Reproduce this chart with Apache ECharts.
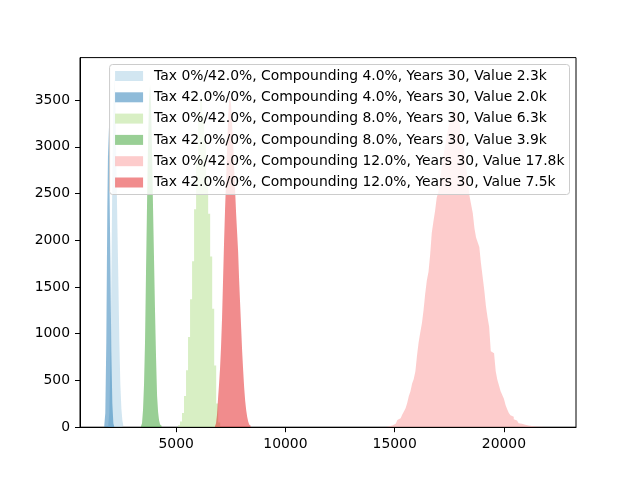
<!DOCTYPE html>
<html><head><meta charset="utf-8">
<script src="https://cdn.jsdelivr.net/npm/echarts@6/dist/echarts.min.js"></script>
<style>html,body{margin:0;padding:0;background:#fff}#c{width:640px;height:480px}</style>
</head><body><div id="c"></div>
<script>
// ---- data ----
const seriesNames = [
  'Tax 0%/42.0%, Compounding 4.0%, Years 30, Value 2.3k',
  'Tax 42.0%/0%, Compounding 4.0%, Years 30, Value 2.0k',
  'Tax 0%/42.0%, Compounding 8.0%, Years 30, Value 6.3k',
  'Tax 42.0%/0%, Compounding 8.0%, Years 30, Value 3.9k',
  'Tax 0%/42.0%, Compounding 12.0%, Years 30, Value 17.8k',
  'Tax 42.0%/0%, Compounding 12.0%, Years 30, Value 7.5k'
];
const seriesColors = ['#a6cee3', '#1f78b4', '#b2df8a', '#33a02c', '#fb9a99', '#e31a1c'];
// first bin edge and bin width for each histogram (data units)
const binStarts = [1895, 1712, 5085, 3392, 14600, 6779];
const binWidths = [46, 46, 92, 46, 75, 46];

const lightBlueCounts = [30, 152, 659, 1522, 2638, 3449, 3754, 3551, 2841, 2181, 1572, 913, 457, 203, 71, 15];
const blueCounts = [20, 152, 913, 2333, 3216, 2739, 1826, 812, 254, 41];
const lightGreenCounts = [20, 61, 152, 335, 609, 964, 1370, 1775, 2333, 2841, 3297, 3500, 3348, 3044, 2688, 2283, 1826, 1268, 659, 254, 51];
const greenCounts = [10, 41, 183, 457, 913, 1674, 2384, 3044, 3500, 3662, 3449, 2942, 2333, 1775, 1217, 730, 335, 162, 71, 30, 10];
const pinkCounts = [3, 10, 12, 18, 23, 36, 51, 76, 96, 114,
  137, 167, 203, 259, 335, 386, 467, 517, 599, 771,
  913, 1015, 1116, 1258, 1430, 1572, 1664, 1846, 2080, 2201,
  2313, 2455, 2516, 2638, 2770, 2891, 3003, 3104, 3196, 3277,
  3338, 3388, 3399, 3368, 3328, 3246, 3155, 3044, 2922, 2790,
  2638, 2475, 2384, 2293, 2131, 2029, 1978, 1928, 1755, 1613,
  1471, 1299, 1177, 1075, 812, 791, 771, 599, 507, 446,
  386, 345, 304, 238, 193, 152, 127, 112, 86, 71,
  56, 43, 37, 30, 26, 22, 18, 15, 12, 10, 8, 7, 6, 5, 4, 3, 2, 2, 1, 1];
const redCounts = [10, 41, 132, 304, 457, 629, 862, 1167, 1572, 1978, 2333, 2638, 2993, 3297, 3500, 3541, 3449, 3246, 3044, 2790,
  2536, 2283, 2080, 1877, 1572, 1319, 1065, 812, 609, 426, 284, 183, 112, 61, 30, 10];

const xTicks = [5000, 10000, 15000, 20000];
const yTicks = [0, 500, 1000, 1500, 2000, 2500, 3000, 3500];

// ---- build chart ----
const allCounts = [lightBlueCounts, blueCounts, lightGreenCounts, greenCounts, pinkCounts, redCounts];
function hexToRgba(h, a) {
  const r = parseInt(h.slice(1, 3), 16), g = parseInt(h.slice(3, 5), 16), b = parseInt(h.slice(5, 7), 16);
  return 'rgba(' + r + ',' + g + ',' + b + ',' + a + ')';
}
const series = allCounts.map((counts, k) => {
  const pts = counts.map((c, i) => [binStarts[k] + i * binWidths[k], c]);
  pts.push([binStarts[k] + counts.length * binWidths[k], 0]);
  const col = hexToRgba(seriesColors[k], 0.5);
  return {
    name: seriesNames[k], type: 'line', step: 'end', data: pts,
    showSymbol: false, symbol: 'none', smooth: false,
    color: col,
    itemStyle: { color: col },
    lineStyle: { width: 0, opacity: 0 },
    areaStyle: { color: col, opacity: 1 },
    emphasis: { disabled: true },
    animation: false
  };
});

const font = 'DejaVu Sans';
const chart = echarts.init(document.getElementById('c'), null, { renderer: 'canvas' });
chart.setOption({
  animation: false,
  backgroundColor: '#fff',
  grid: { left: 80, right: 64, top: 57.6, bottom: 52.8, show: true, borderColor: '#000', borderWidth: 1, backgroundColor: 'transparent', containLabel: false },
  xAxis: {
    type: 'value', min: 600, max: 23300, z: 5,
    axisLine: { show: true, lineStyle: { color: '#000', width: 1 } },
    axisTick: { show: true, length: 5, lineStyle: { color: '#000' }, customValues: xTicks },
    axisLabel: { show: true, margin: 10, color: '#000', fontFamily: font, fontSize: 13.9, customValues: xTicks, formatter: v => String(v) },
    splitLine: { show: false }
  },
  yAxis: {
    type: 'value', min: 0, max: 3955, z: 5,
    axisLine: { show: true, lineStyle: { color: '#000', width: 1 } },
    axisTick: { show: true, length: 5, lineStyle: { color: '#000' }, customValues: yTicks },
    axisLabel: { show: true, margin: 10, color: '#000', fontFamily: font, fontSize: 13.9, customValues: yTicks, formatter: v => String(v) },
    splitLine: { show: false }
  },
  legend: {
    show: true, orient: 'vertical', right: 70.5, top: 64.5,
    icon: 'rect', itemWidth: 28, itemHeight: 10, itemGap: 7.3,
    padding: [4.5, 5, 5, 5.5],
    backgroundColor: 'rgba(255,255,255,0.8)', borderColor: '#cccccc', borderWidth: 1, borderRadius: 3,
    textStyle: { color: '#000', fontFamily: font, fontSize: 13.9, padding: [0, 0, 0, 6] },
    data: seriesNames,
    selectedMode: false
  },
  series: series
});
</script>
</body></html>
